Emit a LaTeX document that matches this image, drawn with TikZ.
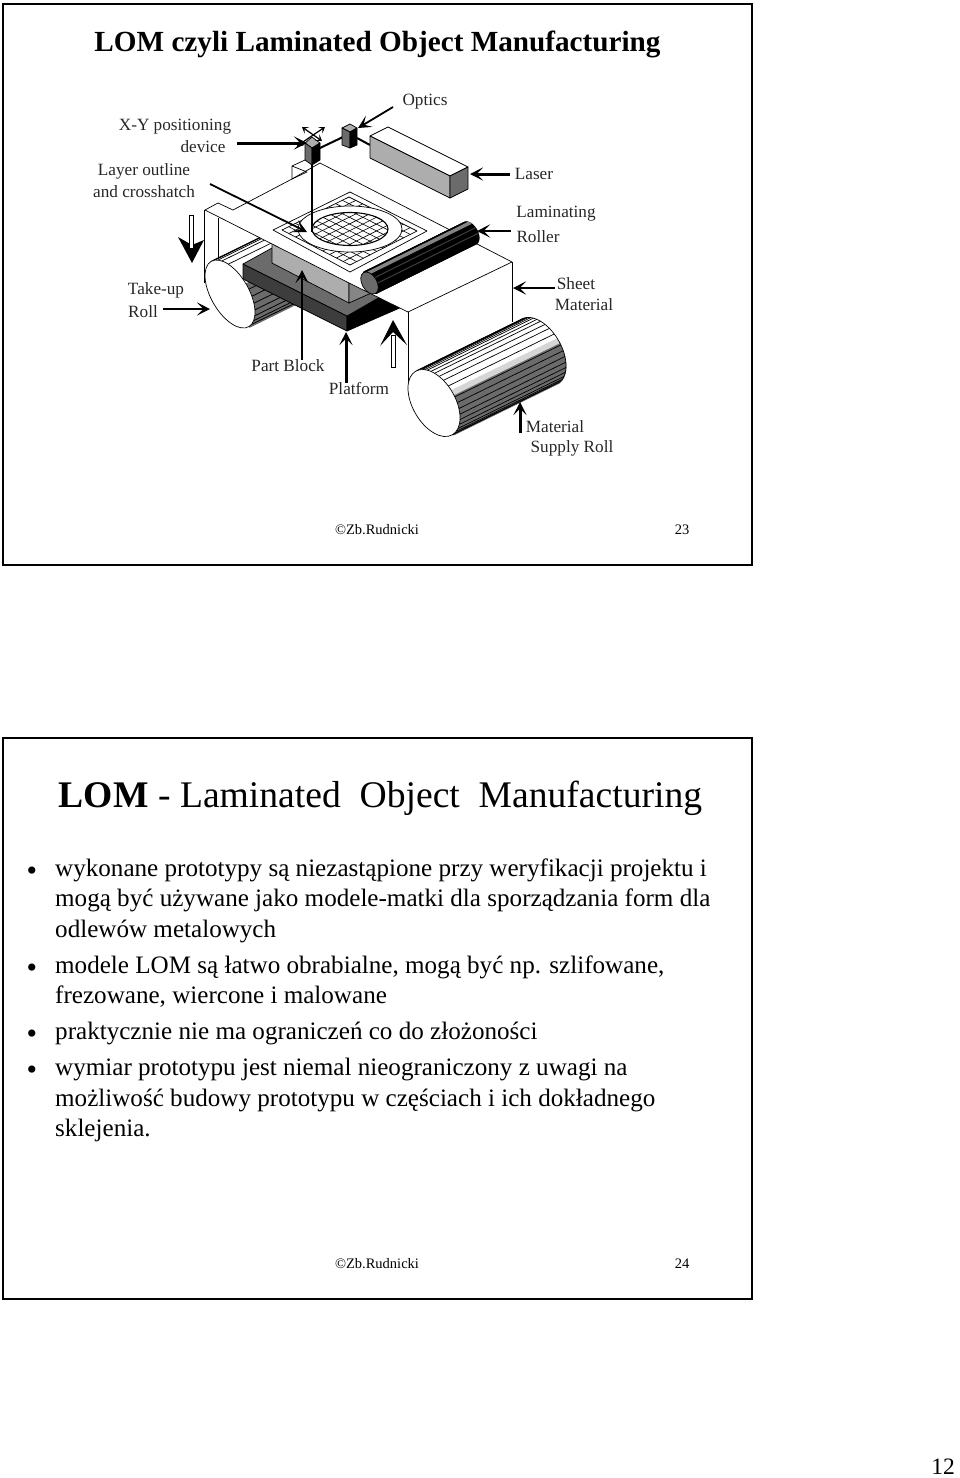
\documentclass[tikz,border=0pt]{standalone}
\usepackage{fontspec}
\setmainfont{Liberation Serif}
\usepackage{xcolor}
\usetikzlibrary{arrows.meta, positioning, calc}

\definecolor{darkface}{gray}{0.24}
\definecolor{midface}{gray}{0.42}
\definecolor{steelface}{gray}{0.52}
\definecolor{lightface}{gray}{0.68}
\definecolor{pale}{gray}{0.84}

\tikzset{
  slide/.style={draw, line width=2pt, minimum width=749pt, minimum height=561pt, anchor=north west, inner sep=0pt},
  lbl/.style={inner sep=0pt, yshift=-1pt, font=\fontsize{17.2}{18}\selectfont, text=black!85},
  foot/.style={inner sep=0pt, font=\fontsize{14.5}{16}\selectfont},
  para/.style={anchor=north west, inner sep=0pt, align=left, font=\fontsize{25.1}{30.5}\selectfont},
  dot/.style={inner sep=0pt, font=\fontsize{30}{31}\selectfont},
  callout/.style={-{Stealth[length=13pt,width=13pt,inset=6.5pt]}, line width=1.8pt},
  heavy/.style={callout, line width=3pt},
  edge/.style={draw, line width=0.7pt, line join=round},
  bigroll/.style={shift={(434,403)}, x={(18.45pt,10.65pt)}, y={(18.35pt,-31.8pt)}},
  takeup/.style={shift={(230,294)}, x={(16.4pt,9.5pt)}, y={(18.85pt,-32.65pt)}},
  laminator/.style={shift={(369.5,283)}, x={(6.4pt,3.7pt)}, y={(6pt,-10.4pt)}},
}

\begin{document}
\begin{tikzpicture}[x=1pt, y=-1pt]
  \useasboundingbox (0,0) rectangle (960,1478);
  \node[slide] (slideA) at (2,3) {};
  \node[slide] (slideB) at (2,737) {};

  % upper slide
  \node[inner sep=0pt, font=\fontsize{29.2}{31}\selectfont\bfseries] (titleA) at (377.5,44) {LOM czyli Laminated Object Manufacturing};

  % take-up roll, far part
  \draw[line width=0.8pt] (204,210) -- (204,283);
  \draw[line width=0.8pt] (218,218) -- (218,258);
  \begin{scope}[takeup]
    \foreach \p in {0,3,...,90} \draw[midface, line width=2.4pt] ({cos(\p)},{sin(\p)}) -- ++(106pt,52pt);
    \foreach \p in {8,20,...,90} \draw[black, line width=0.8pt] ({cos(\p)},{sin(\p)}) -- ++(106pt,52pt);
    \foreach \p in {-90,-84,-78,-70,-60,-45} \draw[black, line width=0.7pt] ({cos(\p)},{sin(\p)}) -- ++(106pt,52pt);
  \end{scope}

  % platform and part block
  \draw[edge, fill=darkface] (243,264) -- (347,316) -- (347,331) -- (243,279) -- cycle;
  \draw[edge, fill=black] (347,316) -- (347,331) -- (402,307) -- (378,297) -- cycle;
  \draw[edge, fill=midface] (243,264) -- (272,248) -- (380,297) -- (347,316) -- cycle;
  \draw[edge, fill=lightface] (272,240) -- (349,280) -- (349,303) -- (272,263) -- cycle;
  \draw[edge, fill=steelface] (349,283) -- (349,303) -- (378,290) -- (362,278) -- cycle;

  % machine table
  \fill[white] (408,312) -- (512,262) -- (512,322) -- (408,395) -- cycle;
  \draw[line width=0.8pt] (408,312) -- (408,395);
  \draw[line width=0.8pt] (512,262) -- (512,325);
  \draw[edge, fill=white] (205,210) -- (218,203) -- (233,210) -- (292,179) -- (320,163)
        -- (512,262) -- (408,312) -- (349,283) -- cycle;
  \draw[edge] (292,179) -- (307,172) -- (292,166) -- cycle;
  \draw[edge] (292,166) -- (305,160);

  % sheet, crosshatch and outline
  \coordinate (gridL) at (282,230);
  \coordinate (gridB) at (350,265);
  \coordinate (gridR) at (417,231);
  \coordinate (gridT) at (349,197);
  \draw[edge] (273,230) -- (350,272) -- (427,231) -- (350,192) -- cycle;
  \draw[edge] (gridL) -- (gridB) -- (gridR) -- (gridT) -- cycle;
  \foreach \t in {0.1,0.2,...,0.95} {
    \draw[line width=0.6pt] ($(gridL)!\t!(gridB)$) -- ($(gridT)!\t!(gridR)$);
    \draw[line width=0.6pt] ($(gridL)!\t!(gridT)$) -- ($(gridB)!\t!(gridR)$);
  }
  \draw[edge, fill=white] (350,229) ellipse [x radius=52, y radius=23];
  \begin{scope}
    \clip (350,229) ellipse [x radius=38, y radius=16.5];
    \foreach \t in {0.1,0.2,...,0.95} {
      \draw[line width=0.6pt] ($(gridL)!\t!(gridB)$) -- ($(gridT)!\t!(gridR)$);
      \draw[line width=0.6pt] ($(gridL)!\t!(gridT)$) -- ($(gridB)!\t!(gridR)$);
    }
  \end{scope}
  \draw[line width=1.1pt] (350,229) ellipse [x radius=38, y radius=16.5];

  % laser, optics and positioner
  \draw[line width=2pt] (312,165) -- (312,232);
  \draw[line width=2pt] (320,148) -- (343,137);
  \draw[line width=2pt] (357,138) -- (370,145);
  \draw[edge, fill=white] (370,136) -- (388,127) -- (468,167) -- (450,176) -- cycle;
  \draw[edge, fill=lightface] (370,136) -- (450,176) -- (450,198) -- (370,158) -- cycle;
  \draw[edge, fill=midface] (450,176) -- (468,167) -- (468,189) -- (450,198) -- cycle;
  \draw[edge, fill=lightface] (305,143) -- (312,137) -- (320,143) -- (312,148) -- cycle;
  \draw[edge, fill=midface] (305,143) -- (312,148) -- (312,165) -- (305,160) -- cycle;
  \draw[edge, fill=black] (312,148) -- (320,143) -- (320,160) -- (312,165) -- cycle;
  \draw[edge, fill=lightface] (342,128) -- (350,124) -- (357,128) -- (350,132) -- cycle;
  \draw[edge, fill=midface] (342,128) -- (350,132) -- (350,148) -- (342,145) -- cycle;
  \draw[edge, fill=black] (350,132) -- (357,128) -- (357,145) -- (350,148) -- cycle;
  \draw[{Stealth[length=6pt,width=8pt,inset=3pt]}-{Stealth[length=6pt,width=8pt,inset=3pt]}, line width=1.2pt] (302,127) -- (322,141);
  \draw[{Stealth[length=6pt,width=8pt,inset=3pt]}-{Stealth[length=6pt,width=8pt,inset=3pt]}, line width=1.2pt] (325,127) -- (297,146);

  % laminating roller
  \begin{scope}[laminator]
    \foreach \p in {-90,-85,...,90} \draw[black, line width=1.6pt] ({cos(\p)},{sin(\p)}) -- ++(101pt,50pt);
    \foreach \p in {-58,-50,-42} \draw[steelface, line width=1.4pt] ({cos(\p)},{sin(\p)}) -- ++(101pt,50pt);
    \foreach \p in {-10,20} \draw[darkface, line width=1pt] ({cos(\p)},{sin(\p)}) -- ++(101pt,50pt);
    \draw[edge, fill=midface] (0,0) circle [radius=1];
  \end{scope}

  % material supply roll
  \begin{scope}[bigroll]
    \foreach \p in {-90,-86,...,-2} \draw[white, line width=2.4pt] ({cos(\p)},{sin(\p)}) -- ++(106pt,52pt);
    \foreach \p in {-2,1,...,7} \draw[pale, line width=2.4pt] ({cos(\p)},{sin(\p)}) -- ++(106pt,52pt);
    \foreach \p in {7,10,...,90} \draw[midface, line width=2.4pt] ({cos(\p)},{sin(\p)}) -- ++(106pt,52pt);
    \foreach \p in {-88,-84,-80,-76,-72,-66,-60,-52,-44,-34,-24,-12,8,18,28,38,48,58,68,76,84,90}
      \draw[black, line width=0.7pt] ({cos(\p)},{sin(\p)}) -- ++(106pt,52pt);
    \begin{scope}[shift={(106pt,52pt)}]
      \draw[edge] plot[domain=-90:90, samples=40] ({cos(\x)},{sin(\x)});
    \end{scope}
    \draw[edge, fill=white] (0,0) circle [radius=1];
  \end{scope}
  \begin{scope}[takeup]
    \draw[edge, fill=white] (0,0) circle [radius=1];
  \end{scope}

  % hollow motion arrows
  \fill (178,237) -- (192,245) -- (204,240) -- (192,263) -- cycle;
  \draw[fill=white, line width=0.6pt] (189.5,215) rectangle (193.5,248);
  \fill (380,346) -- (393,332) -- (407,345) -- (393,320) -- cycle;
  \draw[fill=white, line width=0.6pt] (391,335) rectangle (395,367);

  % labels
  \node[lbl] (lblOptics) at (425,101) {Optics};
  \node[lbl] (lblPositioning) at (175,126) {X-Y positioning};
  \node[lbl] (lblDevice) at (203,146) {device};
  \node[lbl] (lblOutline) at (144,170) {Layer outline};
  \node[lbl] (lblHatch) at (144,191) {and crosshatch};
  \node[lbl] (lblLaser) at (534,173) {Laser};
  \node[lbl] (lblLaminating) at (556,213) {Laminating};
  \node[lbl] (lblRoller) at (538,236) {Roller};
  \node[lbl] (lblSheet) at (576,283) {Sheet};
  \node[lbl] (lblSheetMat) at (584,304) {Material};
  \node[lbl] (lblTakeup) at (156,289) {Take-up};
  \node[lbl] (lblRoll) at (143,311) {Roll};
  \node[lbl] (lblPart) at (288,365) {Part Block};
  \node[lbl] (lblPlatform) at (359,388) {Platform};
  \node[lbl] (lblSupply) at (555,426) {Material};
  \node[lbl] (lblSupplyRoll) at (572,447) {Supply Roll};

  % callouts
  \coordinate (fromOptics) at (393,107);
  \coordinate (toOptics) at (358,128);
  \coordinate (fromDevice) at (237,143);
  \coordinate (toDevice) at (307,143);
  \coordinate (fromHatch) at (210,184);
  \coordinate (toHatch) at (307,232);
  \coordinate (fromLaser) at (510,174);
  \coordinate (toLaser) at (470,174);
  \coordinate (fromRoller) at (511,231);
  \coordinate (toRoller) at (477,231);
  \coordinate (fromSheet) at (555,288);
  \coordinate (toSheet) at (513,288);
  \coordinate (fromTakeup) at (163,309);
  \coordinate (toTakeup) at (210,309);
  \coordinate (toPart) at (302,270);
  \coordinate (toPlatform) at (346,332);
  \coordinate (fromSupply) at (520,433);
  \coordinate (toSupply) at (520,402);
  \draw[callout] (fromOptics) -- (toOptics);
  \draw[heavy] (fromDevice) -- (toDevice);
  \draw[callout] (fromHatch) -- (toHatch);
  \draw[heavy] (fromLaser) -- (toLaser);
  \draw[callout] (fromRoller) -- (toRoller);
  \draw[callout] (fromSheet) -- (toSheet);
  \draw[callout] (fromTakeup) -- (toTakeup);
  \draw[callout] (lblPart.north -| toPart) -- (toPart);
  \draw[heavy] (lblPlatform.north -| toPlatform) -- (toPlatform);
  \draw[heavy] (fromSupply) -- (toSupply);

  \node[foot] (footA) at (377,530) {©Zb.Rudnicki};
  \node[foot] (numA) at (682,530) {23};

  % lower slide
  \node[inner sep=0pt, font=\fontsize{37.6}{39}\selectfont] (titleB) at (380.5,798) {\textbf{LOM} - Laminated\ \ Object\ \ Manufacturing};
  \node[dot] (dotA) at (32,874) {•};
  \node[para] (paraA) at (55,858.5) {wykonane prototypy są niezastąpione przy weryfikacji projektu i\\mogą być używane jako modele-matki dla sporządzania form dla\\odlewów metalowych};
  \node[dot] (dotB) at (32,971) {•};
  \node[para] (paraB) at (55,955.5) {modele LOM są łatwo obrabialne, mogą być np. szlifowane,\\frezowane, wiercone i malowane};
  \node[dot] (dotC) at (32,1037) {•};
  \node[para] (paraC) at (55,1022) {praktycznie nie ma ograniczeń co do złożoności};
  \node[dot] (dotD) at (32,1073) {•};
  \node[para] (paraD) at (55,1058) {wymiar prototypu jest niemal nieograniczony z uwagi na\\możliwość budowy prototypu w częściach i ich dokładnego\\sklejenia.};
  \node[foot] (footB) at (377,1264) {©Zb.Rudnicki};
  \node[foot] (numB) at (682,1264) {24};

  \node[inner sep=0pt, font=\fontsize{23.5}{25}\selectfont] (pageNo) at (943,1467) {12};
\end{tikzpicture}
\end{document}
